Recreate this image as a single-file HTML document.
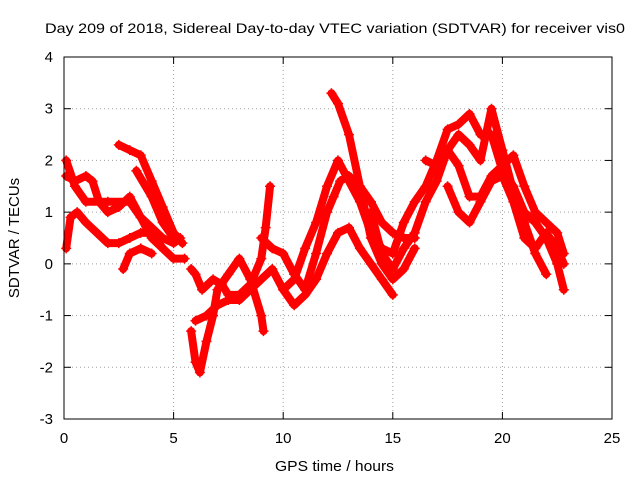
<!DOCTYPE html>
<html><head><meta charset="utf-8"><style>
body{margin:0;background:#fff}
svg{display:block;font-family:"Liberation Sans",sans-serif}
</style></head><body>
<svg id="chart" width="640" height="480">
<text x="45" y="33" font-size="14" textLength="580" lengthAdjust="spacingAndGlyphs">Day 209 of 2018, Sidereal Day-to-day VTEC variation (SDTVAR) for receiver vis0</text>
<text x="275" y="471" font-size="15" textLength="119" lengthAdjust="spacingAndGlyphs">GPS time / hours</text>
<text transform="translate(19,238) rotate(-90)" font-size="15" text-anchor="middle">SDTVAR / TECUs</text>
<g id="grid"></g>
<g id="ticks"></g>
<g id="marks"></g>
<rect x="64" y="57" width="548" height="362" fill="none" stroke="#000" stroke-width="1"/>
</svg>
<script>
const xTicks=[0,5,10,15,20,25];
const yTicks=[-3,-2,-1,0,1,2,3,4];
const trackA=[[0.1,2.0],[0.5,1.5],[1,1.2],[2,1.2],[3,1.2],[3.5,0.9],[4,0.7],[4.5,0.5],[5,0.4],[5.3,0.5]];
const trackB=[[0.1,0.3],[0.3,0.9],[0.6,1.0],[1,0.8],[1.5,0.6],[2,0.4],[2.5,0.4],[3,0.5],[3.5,0.6],[4,0.6],[4.5,0.3],[5,0.1],[5.5,0.1]];
const trackC=[[0.1,1.7],[0.5,1.6],[1,1.7],[1.3,1.6],[1.6,1.2],[2,1.0],[2.5,1.1],[3,1.3],[3.5,0.9],[4,0.5],[4.5,0.3]];
const trackD=[[2.5,2.3],[3,2.2],[3.5,2.1],[4,1.6],[4.5,1.1],[5,0.6],[5.4,0.4]];
const trackE=[[2.7,-0.1],[3,0.2],[3.5,0.3],[4,0.2]];
const trackF=[[3.3,1.8],[4,1.3],[4.5,0.8],[5,0.5]];
const trackG=[[5.8,-1.3],[6,-1.9],[6.2,-2.1],[6.5,-1.5],[6.8,-1.0],[7,-0.5],[7.5,-0.2],[8,0.1],[8.5,-0.3],[9,-1.0],[9.1,-1.3]];
const trackH=[[5.8,-0.1],[6,-0.2],[6.3,-0.5],[6.8,-0.3],[7.2,-0.4],[7.5,-0.6],[8,-0.6],[8.5,-0.4],[9,0.1],[9.2,0.7],[9.4,1.5]];
const trackI=[[6,-1.1],[6.5,-1.0],[7,-0.8],[7.5,-0.7],[8,-0.7],[8.5,-0.5],[9,-0.3],[9.5,-0.1],[10,-0.5],[10.5,-0.8],[11,-0.6],[11.5,-0.3],[12,0.2],[12.5,0.6],[13,0.7],[13.5,0.3],[14,0],[14.5,-0.3],[15,-0.6]];
const trackJ=[[9,0.5],[9.5,0.3],[10,0.2],[10.5,-0.2],[11,-0.5],[11.5,0.2],[12,1.0],[12.3,1.3],[12.6,1.6],[13,1.7],[13.5,1.5],[14,1.2],[14.5,0.8],[15,0.6],[15.5,0.5],[16,0.5]];
const trackK=[[12.2,3.3],[12.5,3.1],[13,2.5],[13.5,1.5],[14,0.5],[14.5,0.0],[15,-0.3],[15.5,-0.1],[16,0.3]];
const trackL=[[10,-0.5],[10.5,-0.3],[11,0.3],[11.5,0.8],[12,1.5],[12.5,2.0],[13,1.6],[13.5,1.2],[14,0.6],[14.5,0.3],[15,0.2],[15.5,0.8],[16,1.2],[16.5,1.5],[17,2.0],[17.5,2.6],[18,2.7],[18.5,2.9],[19,2.5],[19.5,2.5],[20,1.8],[20.5,1.5],[21,1.0],[21.5,0.8],[22,0.5],[22.5,0.0],[22.8,-0.5]];
const trackM=[[14,1.0],[14.5,0.2],[15,-0.1],[15.5,0.3],[16,0.6],[16.5,1.2],[17,1.6],[17.5,2.2],[18,2.5],[18.5,2.3],[19,2.0],[19.5,3.0],[20,2.2],[20.5,1.4],[21,0.8],[21.5,0.2],[22,-0.2]];
const trackN=[[16.5,2.0],[17,1.9],[17.5,2.2],[18,1.9],[18.5,1.3],[19,1.3],[19.5,1.7],[20,1.9],[20.5,2.1],[21,1.5],[21.5,1.0],[22,0.8],[22.5,0.6],[22.8,0.2]];
const trackO=[[17.5,1.5],[18,1.0],[18.5,0.8],[19,1.2],[19.5,1.6],[20,1.7],[20.5,1.2],[21,0.5],[21.5,0.3],[22,0.6],[22.5,0.3],[22.8,0.0]];
const tracks=[trackA,trackB,trackC,trackD,trackE,trackF,trackG,trackH,trackI,trackJ,trackK,trackL,trackM,trackN,trackO];

const NS="http://www.w3.org/2000/svg";
const X0=64,X1=612,Y0=419,Y1=57;
const sx=v=>X0+(v-0)/(25-0)*(X1-X0);
const sy=v=>Y0-(v+3)/(4+3)*(Y0-Y1);
function mk(tag,attrs,parent){const e=document.createElementNS(NS,tag);for(const k in attrs)e.setAttribute(k,attrs[k]);parent.appendChild(e);return e;}
const grid=document.getElementById('grid'),ticks=document.getElementById('ticks'),marks=document.getElementById('marks');
xTicks.forEach(t=>{
  const x=sx(t);
  if(t>0&&t<25){const g=mk('line',{x1:x,x2:x,y1:Y0,y2:Y1,stroke:'#a0a0a0','stroke-dasharray':'1,3'},grid);
  
  }
  mk('line',{x1:x,x2:x,y1:Y0,y2:Y0-7,stroke:'#000'},ticks);
  mk('line',{x1:x,x2:x,y1:Y1,y2:Y1+7,stroke:'#000'},ticks);
  const l=mk('text',{x:x,y:443,'font-size':15,'text-anchor':'middle'},ticks);l.textContent=t;
  
  
});
yTicks.forEach(t=>{
  const y=sy(t);
  if(t>-3&&t<4){const g=mk('line',{x1:X0,x2:X1,y1:y,y2:y,stroke:'#a0a0a0','stroke-dasharray':'1,3'},grid);
  
  }
  mk('line',{x1:X0,x2:X0+7,y1:y,y2:y,stroke:'#000'},ticks);
  mk('line',{x1:X1,x2:X1-7,y1:y,y2:y,stroke:'#000'},ticks);
  const l=mk('text',{x:53,y:y+5,'font-size':15,'text-anchor':'end'},ticks);l.textContent=t;
  
  
});
tracks.forEach((tr,i)=>{
  const pts=tr.map(p=>sx(p[0])+','+sy(p[1])).join(' ');
  const pl=mk('polyline',{points:pts,fill:'none',stroke:'#ff0000','stroke-width':8,'stroke-linejoin':'round','stroke-linecap':'round'},marks);
  
  
  tr.forEach(p=>{
    const x=sx(p[0]),y=sy(p[1]);
    const m=mk('path',{d:`M${x-5},${y}H${x+5}M${x},${y-5}V${y+5}`,stroke:'#ff0000','stroke-width':1.5},marks);
    
    
  });
});
</script>
</body></html>
